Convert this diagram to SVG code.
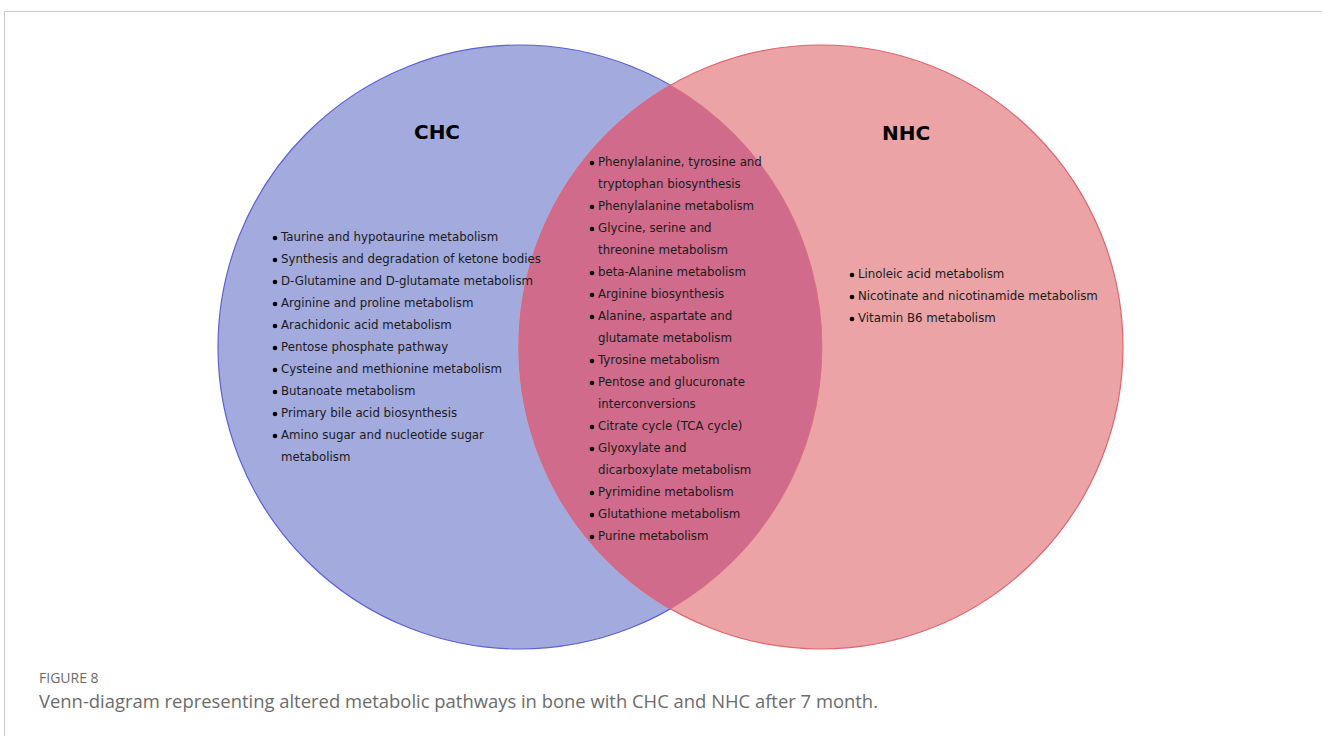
<svg xmlns="http://www.w3.org/2000/svg" width="1322" height="736" viewBox="0 0 1322 736">
<style>
.t{font-family:"DejaVu Sans",Verdana,sans-serif;font-size:11.8px;fill:#1a1a1a}
.h{font-family:"DejaVu Sans",Verdana,sans-serif;font-size:20px;font-weight:bold;fill:#000;text-anchor:middle}
.cap{font-family:"Open Sans","Noto Sans",sans-serif;fill:#6b6b6b}
.b{fill:#000}
</style>
<rect width="1322" height="736" fill="#fff"/>
<path d="M4.5 736V11.5H1322" fill="none" stroke="#c8c8c8" stroke-width="1"/>
<g id="chc">
<circle cx="520" cy="347" r="302" fill="#a3aade" stroke="#5c62d0" stroke-width="1.2"/>
<text class="h" x="437" y="139">CHC</text>
</g>
<g id="nhc">
<circle cx="821" cy="347" r="302" fill="#eba3a6" stroke="#e0656c" stroke-width="1.2"/>
<text class="h" x="906" y="140">NHC</text>
</g>
<g id="overlap">
<path d="M670.5 85.2A302 302 0 0 1 670.5 608.8A302 302 0 0 1 670.5 85.2Z" fill="#d06b8b" stroke="#d86a80" stroke-width="0.8"/>
</g>
<g id="chc-list">
<g class="b">
<circle cx="275" cy="238" r="2.3"/><circle cx="275" cy="260" r="2.3"/><circle cx="275" cy="282" r="2.3"/><circle cx="275" cy="304" r="2.3"/><circle cx="275" cy="326" r="2.3"/><circle cx="275" cy="348" r="2.3"/><circle cx="275" cy="370" r="2.3"/><circle cx="275" cy="392" r="2.3"/><circle cx="275" cy="414" r="2.3"/><circle cx="275" cy="436" r="2.3"/>
</g>
<text class="t" x="281" y="241">Taurine and hypotaurine metabolism</text>
<text class="t" x="281" y="263">Synthesis and degradation of ketone bodies</text>
<text class="t" x="281" y="285">D-Glutamine and D-glutamate metabolism</text>
<text class="t" x="281" y="307">Arginine and proline metabolism</text>
<text class="t" x="281" y="329">Arachidonic acid metabolism</text>
<text class="t" x="281" y="351">Pentose phosphate pathway</text>
<text class="t" x="281" y="373">Cysteine and methionine metabolism</text>
<text class="t" x="281" y="395">Butanoate metabolism</text>
<text class="t" x="281" y="417">Primary bile acid biosynthesis</text>
<text class="t" x="281" y="439">Amino sugar and nucleotide sugar</text>
<text class="t" x="281" y="461">metabolism</text>
</g>
<g id="shared-list">
<g class="b">
<circle cx="592" cy="163" r="2.3"/><circle cx="592" cy="207" r="2.3"/><circle cx="592" cy="229" r="2.3"/><circle cx="592" cy="273" r="2.3"/><circle cx="592" cy="295" r="2.3"/><circle cx="592" cy="317" r="2.3"/><circle cx="592" cy="361" r="2.3"/><circle cx="592" cy="383" r="2.3"/><circle cx="592" cy="427" r="2.3"/><circle cx="592" cy="449" r="2.3"/><circle cx="592" cy="493" r="2.3"/><circle cx="592" cy="515" r="2.3"/><circle cx="592" cy="537" r="2.3"/>
</g>
<text class="t" x="598" y="166">Phenylalanine, tyrosine and</text>
<text class="t" x="598" y="188">tryptophan biosynthesis</text>
<text class="t" x="598" y="210">Phenylalanine metabolism</text>
<text class="t" x="598" y="232">Glycine, serine and</text>
<text class="t" x="598" y="254">threonine metabolism</text>
<text class="t" x="598" y="276">beta-Alanine metabolism</text>
<text class="t" x="598" y="298">Arginine biosynthesis</text>
<text class="t" x="598" y="320">Alanine, aspartate and</text>
<text class="t" x="598" y="342">glutamate metabolism</text>
<text class="t" x="598" y="364">Tyrosine metabolism</text>
<text class="t" x="598" y="386">Pentose and glucuronate</text>
<text class="t" x="598" y="408">interconversions</text>
<text class="t" x="598" y="430">Citrate cycle (TCA cycle)</text>
<text class="t" x="598" y="452">Glyoxylate and</text>
<text class="t" x="598" y="474">dicarboxylate metabolism</text>
<text class="t" x="598" y="496">Pyrimidine metabolism</text>
<text class="t" x="598" y="518">Glutathione metabolism</text>
<text class="t" x="598" y="540">Purine metabolism</text>
</g>
<g id="nhc-list">
<g class="b">
<circle cx="852" cy="275" r="2.3"/><circle cx="852" cy="297" r="2.3"/><circle cx="852" cy="319" r="2.3"/>
</g>
<text class="t" x="858" y="278">Linoleic acid metabolism</text>
<text class="t" x="858" y="300">Nicotinate and nicotinamide metabolism</text>
<text class="t" x="858" y="322">Vitamin B6 metabolism</text>
</g>
<g id="caption">
<text class="cap" x="39" y="683" font-size="14">FIGURE 8</text>
<text class="cap" x="39" y="708" font-size="18.5" textLength="839" lengthAdjust="spacingAndGlyphs">Venn-diagram representing altered metabolic pathways in bone with CHC and NHC after 7 month.</text>
</g>
</svg>
